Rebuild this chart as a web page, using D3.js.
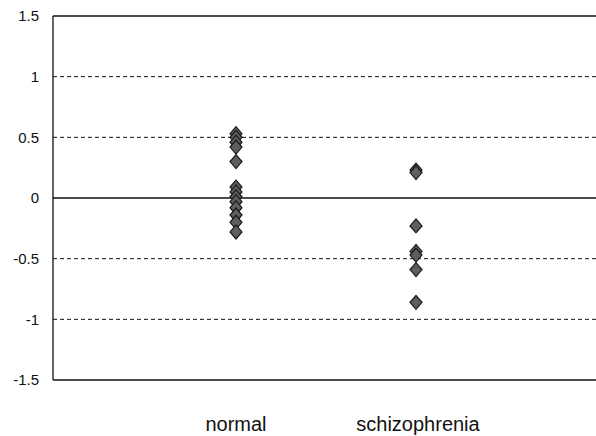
<!DOCTYPE html>
<html lang="en">
<head>
<meta charset="UTF-8">
<script src="https://d3js.org/d3.v7.min.js"></script>
<title>normal vs schizophrenia</title>
<style>
    body{ margin:0; background:#fff; }
    text{ font-family:"Liberation Sans", Arial, sans-serif; fill:#111; }
</style>
</head>
<body>
<script>
    // categories and the values
    var categories = ["normal", "schizophrenia"];
    var normalValues = [0.53, 0.50, 0.46, 0.42, 0.30, 0.09, 0.05, 0.01, -0.03, -0.08, -0.14, -0.20, -0.28];
    var schizoValues = [0.23, 0.21, -0.23, -0.44, -0.47, -0.59, -0.86];
    var yTicks = [-1.5, -1, -0.5, 0, 0.5, 1, 1.5];

    var width = 596, height = 436;
    var plotLeft = 53, plotTop = 16, plotBottom = 380, plotRight = 600;

    var svg = d3.select("body").append("svg")
        .attr("width", width).attr("height", height);

    var yScale = d3.scaleLinear().domain([-1.5, 1.5]).range([plotBottom, plotTop]);
    // category index 1,2 on a 0..3 axis
    var xScale = d3.scaleLinear().domain([0, 3]).range([56, 596]);

    // grid lines
    svg.selectAll("line.grid").data(yTicks).enter().append("line")
        .attr("x1", plotLeft).attr("x2", plotRight)
        .attr("y1", d => yScale(d)).attr("y2", d => yScale(d))
        .style("stroke", "#111")
        .style("stroke-width", d => (d == 0 || Math.abs(d) == 1.5) ? 1.3 : 1)
        .style("stroke-dasharray", d => (d == 0 || Math.abs(d) == 1.5) ? null : "4,3");

    // left frame line
    svg.append("line").attr("x1", plotLeft).attr("x2", plotLeft)
        .attr("y1", yScale(1.5)).attr("y2", yScale(-1.5))
        .style("stroke", "#111").style("stroke-width", 1.3);

    // y tick labels
    svg.selectAll("text.ytick").data(yTicks).enter().append("text")
        .attr("x", 39).attr("y", d => yScale(d)).attr("dy", "0.36em")
        .attr("text-anchor", "end").style("font-size", "15px")
        .text(d => d);

    // category labels
    svg.selectAll("text.cat").data(categories).enter().append("text")
        .attr("x", (d, i) => xScale(i + 1) + (i == 1 ? 2 : 0)).attr("y", 431)
        .attr("text-anchor", "middle").style("font-size", "20px")
        .text(d => d);

    var points = [];
    normalValues.forEach(v => points.push({c: 1, v: v}));
    schizoValues.forEach(v => points.push({c: 2, v: v}));

    var diamond = "M0,-7 L6,0 L0,7 L-6,0 Z";
    svg.selectAll("path.pt").data(points).enter().append("path")
        .attr("d", diamond)
        .attr("transform", d => "translate(" + xScale(d.c) + "," + yScale(d.v) + ")")
        .style("fill", "#5e5e5e").style("stroke", "#1a1a1a").style("stroke-width", 1.2);
</script>
</body>
</html>
